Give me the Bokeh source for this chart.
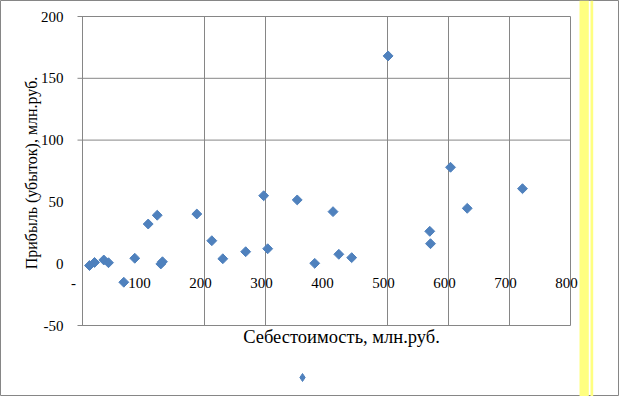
import numpy as np
from bokeh.plotting import figure
from bokeh.models import Label, Legend, LegendItem, BoxAnnotation
from bokeh.core.properties import value
from bokeh.embed import file_html
from bokeh.resources import INLINE

# ---- data ----
cost = [11.5, 19.7, 34.9, 42.6, 67.7, 85.7, 107.7, 122.5, 128.4, 131.1,
        187.4, 212.0, 230.0, 267.5, 297.0, 303.6, 352.0, 380.7, 410.7, 420.2,
        441.3, 501.0, 569.3, 570.5, 603.3, 630.7, 721.3]
profit = [-1.5, 1.0, 3.0, 0.8, -15.0, 4.4, 32.1, 39.2, -0.2, 1.6,
          40.2, 18.6, 4.0, 9.7, 55.0, 12.1, 51.6, 0.3, 42.1, 7.6,
          4.9, 168.1, 26.2, 16.2, 78.0, 44.8, 60.7]

y_ticks = [200, 150, 100, 50, 0, -50]
y_tick_labels = ["200", "150", "100", "50", "0", "-50"]
x_ticks = [0, 100, 200, 300, 400, 500, 600, 700, 800]
x_tick_labels = ["-", "100", "200", "300", "400", "500", "600", "700", "800"]
h_grid = [200, 150, 100, -50]
v_grid = [0, 200, 300, 500, 600, 700, 800]

x_title = "Себестоимость, млн.руб."
y_title = "Прибыль (убыток), млн.руб."

# ---- layout ----
W, H = 619, 396
PL, PR, PT, PB = 82, 570, 16, 325          # plot area in figure pixels
X0, X1, Y0, Y1 = 0, 800, -50, 200
sx = (PR - PL) / (X1 - X0)
sy = (PB - PT) / (Y1 - Y0)
x_range = (X0 - PL / sx, X1 + (W - PR) / sx)
y_range = (Y0 - (H - PB) / sy, Y1 + PT / sy)

GRID = "#868686"
BLUE = "#4F81BD"
FONT = value("Liberation Serif")

p = figure(width=W, height=H, x_range=x_range, y_range=y_range,
           output_backend="svg", toolbar_location=None,
           x_axis_location=None, y_axis_location=None,
           min_border=0, min_border_left=0, min_border_right=0,
           min_border_top=0, min_border_bottom=0,
           outline_line_color=GRID, outline_line_width=1)
p.grid.visible = False
p.background_fill_color = "white"

# yellow strip on the right
p.add_layout(BoxAnnotation(left=579, right=588.3, left_units="screen", right_units="screen",
                           fill_color="#FFFF80", fill_alpha=1, line_color=None))
p.add_layout(BoxAnnotation(left=590, right=592.7, left_units="screen", right_units="screen",
                           fill_color="#FFFF80", fill_alpha=1, line_color=None))

# grid / axis lines
tick_len = 5 / sx
p.segment(x0=[X0 - tick_len] * len(h_grid), y0=h_grid, x1=[X1] * len(h_grid), y1=h_grid,
          line_color=GRID, line_width=1)
p.segment(x0=v_grid, y0=[Y0] * len(v_grid), x1=v_grid, y1=[Y1] * len(v_grid),
          line_color=GRID, line_width=1)

# tick labels
p.text(x=[X0] * len(y_ticks), y=y_ticks, text=y_tick_labels, x_offset=-19,
       text_align="right", text_baseline="middle", text_font=FONT,
       text_font_size="15px", text_color="black")
x_offsets = [-9 if t == "-" else -4 for t in x_tick_labels]
p.text(x=x_ticks, y=[0] * len(x_ticks), text=x_tick_labels, x_offset=x_offsets, y_offset=19,
       text_align="center", text_baseline="middle", text_font=FONT,
       text_font_size="15px", text_color="black")

# axis titles
p.add_layout(Label(x=31, y=H - 172.5, x_units="screen", y_units="screen", text=y_title,
                   angle=np.pi / 2, text_align="center", text_baseline="middle",
                   text_font="Liberation Serif", text_font_size="16px", text_color="black"))
p.add_layout(Label(x=341, y=H - 336, x_units="screen", y_units="screen", text=x_title,
                   text_align="center", text_baseline="middle",
                   text_font="Liberation Serif", text_font_size="18.5px", text_color="black"))

# data
r = p.scatter(x=cost, y=profit, marker="square", size=7, angle=np.pi / 4,
              fill_color=BLUE, line_color=BLUE)

# legend key (diamond) for the single, unnamed series; proxy renderer draws nothing itself
key = p.scatter(x=[float("nan")], y=[float("nan")], marker="diamond",
                fill_color=BLUE, line_color=BLUE)
legend = Legend(items=[LegendItem(label=" ", renderers=[key], index=0)], location=(291.7, 9),
                glyph_width=20, glyph_height=20, label_width=0, label_height=20,
                label_standoff=0, padding=0, spacing=0, margin=0,
                border_line_color=None, background_fill_alpha=0,
                label_text_font_size="8px")
p.add_layout(legend)

open("out.html", "w").write(file_html(p, INLINE))
